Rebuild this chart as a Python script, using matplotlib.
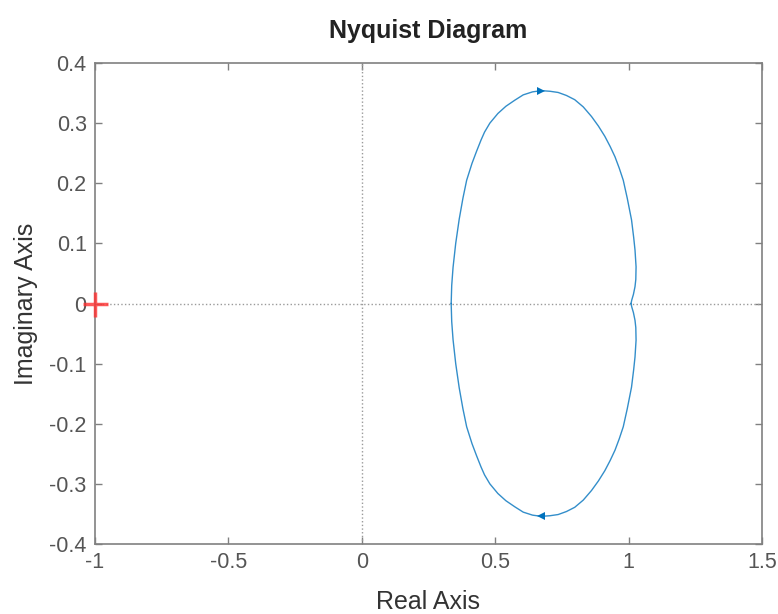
import numpy as np
import matplotlib
matplotlib.use("Agg")
import matplotlib.pyplot as plt

plt.rcParams['font.family'] = ['Liberation Sans', 'DejaVu Sans']

# upper branch (negative frequencies), in arrow direction
re_up = [0.335, 0.337, 0.342, 0.352, 0.365, 0.379, 0.393, 0.413, 0.430, 0.447,
         0.46, 0.48, 0.51, 0.54, 0.573, 0.605, 0.64, 0.673,
         0.705, 0.736, 0.767, 0.798, 0.830, 0.861, 0.887, 0.911, 0.931, 0.949,
         0.965, 0.980, 0.995, 1.011, 1.019, 1.024, 1.028, 1.027, 1.024, 1.018,
         1.012, 1.009]
im_up = [0.0, 0.03, 0.06, 0.10, 0.14, 0.175, 0.205, 0.233, 0.253, 0.272,
         0.285, 0.300, 0.316, 0.328, 0.338, 0.347, 0.352, 0.354,
         0.353, 0.351, 0.346, 0.339, 0.327, 0.311, 0.295, 0.278, 0.261, 0.244,
         0.225, 0.205, 0.175, 0.139, 0.11, 0.089, 0.061, 0.04, 0.028, 0.015,
         0.006, 0.0]

# lower branch is the mirror image (positive frequencies)
re_dn = re_up[::-1]
im_dn = [-v for v in im_up[::-1]]

arrow_top = (0.673, 0.354)
arrow_bot = (0.673, -0.354)

xticks = [-1, -0.5, 0, 0.5, 1, 1.5]
xticklabels = ['-1', '-0.5', '0', '0.5', '1', '1.5']
yticks = [-0.4, -0.3, -0.2, -0.1, 0, 0.1, 0.2, 0.3, 0.4]
yticklabels = ['-0.4', '-0.3', '-0.2', '-0.1', '0', '0.1', '0.2', '0.3', '0.4']

blue = '#0072BD'
gray = '#808080'
txt = '#555555'

fig = plt.figure(figsize=(7.78, 6.14), dpi=100)
ax = fig.add_axes([95/778, 70/614, 667/778, 481/614])

ax.axhline(0, color='#9a9a9a', ls=':', lw=1)
ax.axvline(0, color='#9a9a9a', ls=':', lw=1)

ax.plot(re_up, im_up, color=blue, lw=1, alpha=0.8)
ax.plot(re_dn, im_dn, color=blue, lw=1, alpha=0.8)
ax.plot(*arrow_top, marker='>', color=blue, ms=6, mew=0)
ax.plot(*arrow_bot, marker='<', color=blue, ms=6, mew=0)

ax.plot(-1, 0, marker='+', color='#ff3030', ms=18, mew=2.5, alpha=0.8, clip_on=False, zorder=5)

ax.set_xlim(-1, 1.5)
ax.set_ylim(-0.4, 0.4)
ax.set_xticks(xticks)
ax.set_xticklabels(xticklabels)
ax.set_yticks(yticks)
ax.set_yticklabels(yticklabels)
ax.tick_params(direction='in', length=5, width=1, colors=gray, labelcolor=txt,
               labelsize=15.5, top=True, right=True, pad=6)
for s in ax.spines.values():
    s.set_color(gray)
    s.set_linewidth(1.2)

ax.set_xlabel('Real Axis', fontsize=18, color='#333333', labelpad=12)
ax.set_ylabel('Imaginary Axis', fontsize=18, color='#333333', labelpad=8)
ax.set_title('Nyquist Diagram', fontsize=18, fontweight='bold', color='#222222', pad=18)

fig.savefig('out.png', dpi=100)
